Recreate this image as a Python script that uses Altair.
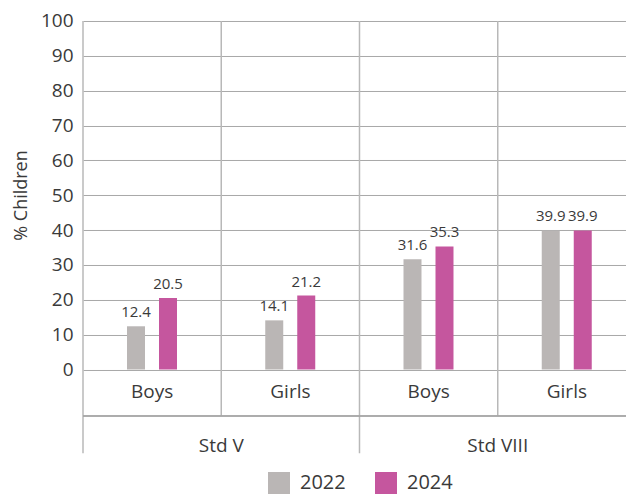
import altair as alt
import pandas as pd

# ---- data ----
std_levels = ["Std V", "Std V", "Std VIII", "Std VIII"]
genders = ["Boys", "Girls", "Boys", "Girls"]
years = ["2022", "2024"]
values_2022 = [12.4, 14.1, 31.6, 39.9]
values_2024 = [20.5, 21.2, 35.3, 39.9]
y_ticks = list(range(0, 101, 10))
colors = ["#bab6b5", "#c5569e"]

cats = [f"{s} {g}" for s, g in zip(std_levels, genders)]

rows = []
for c, v in zip(cats, values_2022):
    rows.append({"cat": c, "year": "2022", "value": v})
for c, v in zip(cats, values_2024):
    rows.append({"cat": c, "year": "2024", "value": v})
bars_df = pd.DataFrame(rows)

gender_df = pd.DataFrame({"cat": cats, "label": genders})

# separators at the start of each band; long ones between Std groups
sep_df = pd.DataFrame({
    "cat": cats,
    "bottom": [-24.0 if i % 2 == 0 else -13.34 for i in range(len(cats))],
})
std_df = pd.DataFrame({"cat": [cats[1], cats[3]], "label": [std_levels[0], std_levels[2]]})

FONT = "Open Sans"
TXT = "#3a3a3a"

# the last band runs past the visible edge, as in the reference
xscale = alt.Scale(domain=cats, range=[0, 553], paddingInner=0, paddingOuter=0)
yscale = alt.Scale(domain=[-36, 100], nice=False, zero=False)

base_y_axis = alt.Axis(
    values=y_ticks, grid=True, gridColor="#a8a8a8", gridWidth=1,
    domain=False, ticks=False, labelFontSize=19, labelColor=TXT,
    labelFont=FONT, labelPadding=10,
    title="% Children", titleFont=FONT, titleFontSize=18, titleFontWeight="normal",
    titleColor=TXT, titleAngle=-90, titleX=-62, titleY=174,
    titleAlign="center", titleBaseline="middle",
)

bars = alt.Chart(bars_df).mark_bar().encode(
    x=alt.X("cat:N", scale=xscale, axis=None, sort=cats),
    xOffset=alt.XOffset("year:N", scale=alt.Scale(domain=years, range=[44, 94],
                                                   paddingInner=0.4375, paddingOuter=0)),
    y=alt.Y("value:Q", scale=yscale, axis=base_y_axis),
    color=alt.Color("year:N", scale=alt.Scale(domain=years, range=colors),
                    legend=alt.Legend(
                        title=None, orient="none", direction="horizontal",
                        legendX=185, legendY=451, padding=0,
                        symbolType="square", symbolSize=484, symbolStrokeWidth=0,
                        symbolOpacity=1,
                        labelFont=FONT, labelFontSize=20, labelColor=TXT,
                        labelOffset=10, columnPadding=29,
                    )),
)

value_labels = alt.Chart(bars_df).mark_text(
    baseline="alphabetic", dy=-9, fontSize=15, font=FONT, color=TXT
).encode(
    x=alt.X("cat:N", scale=xscale, axis=None, sort=cats),
    xOffset=alt.XOffset("year:N"),
    y=alt.Y("value:Q"),
    text=alt.Text("value:Q", format=".1f"),
)

seps = alt.Chart(sep_df).mark_rule(color="#b8b8b8", strokeWidth=1.5).encode(
    x=alt.X("cat:N", scale=xscale, axis=None, sort=cats, bandPosition=0),
    y=alt.Y("bottom:Q"),
    y2=alt.datum(100),
)

lower_line = alt.Chart(gender_df).mark_rule(color="#a8a8a8", strokeWidth=1).encode(
    x=alt.value(0),
    x2=alt.value("width"),
    y=alt.datum(-13.34),
)

gender_text = alt.Chart(gender_df).mark_text(
    baseline="alphabetic", fontSize=19, font=FONT, color=TXT
).encode(
    x=alt.X("cat:N", scale=xscale, axis=None, sort=cats),
    y=alt.datum(-8.2),
    text="label:N",
)

std_text = alt.Chart(std_df).mark_text(
    baseline="alphabetic", fontSize=19, font=FONT, color=TXT
).encode(
    x=alt.X("cat:N", scale=xscale, axis=None, sort=cats, bandPosition=0),
    y=alt.datum(-23.6),
    text="label:N",
)

chart = alt.layer(
    seps, lower_line, bars, value_labels, gender_text, std_text
).properties(
    width=543, height=473.96,
    autosize=alt.AutoSizeParams(type="none"),
    padding={"left": 75, "top": 13, "right": 0, "bottom": 0},
).configure(font=FONT, view=alt.ViewConfig(stroke=None))

chart.save("out.html", embed_options={"renderer": "svg", "actions": False})
